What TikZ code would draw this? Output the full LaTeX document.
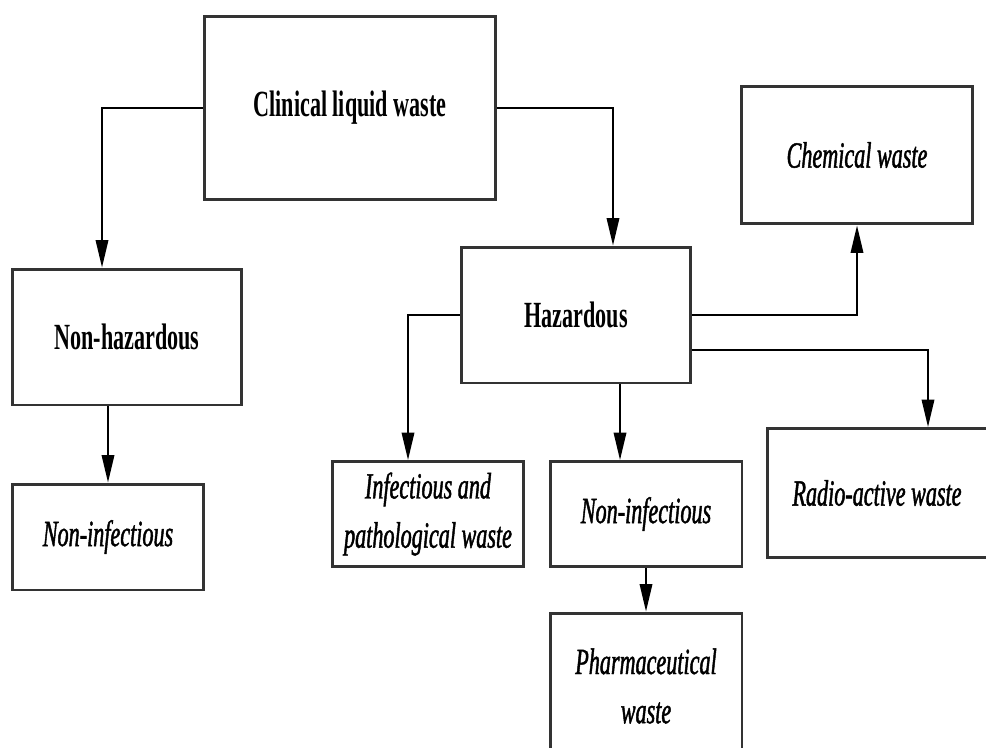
\documentclass[tikz,border=0pt]{standalone}
\usepackage{fontspec}
\setmainfont{Liberation Serif}
\newfontfamily\narrowfont[FakeStretch=0.6]{Liberation Serif}
\newfontfamily\narrowitfont[FakeStretch=0.6,FakeBold=1.2]{Liberation Serif Italic}
\usetikzlibrary{arrows.meta}

\tikzset{
  wbox/.style={shape=rectangle,draw=black!80,line width=1.7pt,align=center},
  mainbox/.style={wbox,font=\narrowfont\bfseries\fontsize{21}{28}\selectfont},
  leafbox/.style={wbox,font=\narrowitfont\fontsize{21}{28}\selectfont},
  link/.style={line width=1.1pt,-{Triangle[length=0.55cm,width=0.25cm]}}
}

\begin{document}
\begin{tikzpicture}[x=0.02cm,y=-0.02cm]
\useasboundingbox (0,0) rectangle (986,747);

\node[mainbox,minimum width=5.84cm,minimum height=3.68cm] (C) at (350,108) {Clinical liquid waste};
\node[mainbox,minimum width=4.6cm,minimum height=2.72cm] (NH) at (127,337) {Non-hazardous};
\node[mainbox,minimum width=4.6cm,minimum height=2.72cm] (H) at (576,315) {Hazardous};
\node[leafbox,minimum width=4.62cm,minimum height=2.76cm] (CH) at (857,155) {Chemical waste};
\node[leafbox,minimum width=3.84cm,minimum height=2.12cm] (N1) at (108,537) {Non-infectious};
\node[leafbox,minimum width=3.84cm,minimum height=2.1cm] (I) at (428,514) {Infectious and\\pathological waste};
\node[leafbox,minimum width=3.84cm,minimum height=2.1cm] (N2) at (646,514) {Non-infectious};
\node[leafbox,minimum width=4.4cm,minimum height=2.58cm] (R) at (877,493) {Radio-active waste};
\node[leafbox,minimum width=3.84cm,minimum height=2.92cm] (P) at (646,686) {Pharmaceutical\\waste};

\draw[link] (C.west) -| ([xshift=-0.5cm]NH.north);
\draw[link] (C.east) -| ([xshift=0.74cm]H.north);
\draw[link] (N1.north |- NH.south) -- (N1.north);
\draw[link] (H.east) -| (CH.south);
\draw[link] ([yshift=-0.7cm]H.east) -| ([xshift=1.02cm]R.north);
\draw[link] (H.west) -| ([xshift=-0.4cm]I.north);
\draw[link] ([xshift=-0.52cm]N2.north |- H.south) -- ([xshift=-0.52cm]N2.north);
\draw[link] (N2) -- (P);
\end{tikzpicture}
\end{document}
